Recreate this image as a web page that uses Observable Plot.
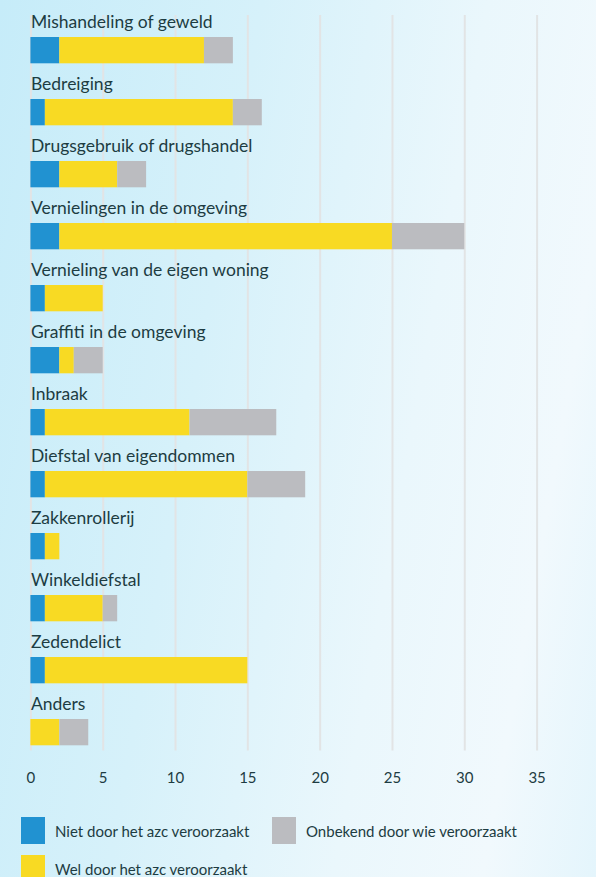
<!DOCTYPE html>
<html><head><meta charset="utf-8">
<script src="https://cdn.jsdelivr.net/npm/d3@7"></script>
<script src="https://cdn.jsdelivr.net/npm/@observablehq/plot@0.6"></script>
<style>
html,body{margin:0;padding:0;}
body{width:596px;height:877px;overflow:hidden;position:relative;
  background:linear-gradient(100deg,#c6ecf9 0%,#d6f1fa 35%,#eaf7fc 65%,#f1f9fd 85%,#e4f5fc 100%);
  font-family:Lato,sans-serif;color:#1d3c42;}
#chart svg{display:block;background:transparent;}
.li{position:absolute;display:flex;align-items:center;font-size:15px;white-space:nowrap;}
.sw{width:24px;height:27px;margin-right:10px;flex:none;}
</style></head>
<body>
<div id="chart"></div>
<div id="legend"></div>
<script>
const categories = ["Mishandeling of geweld","Bedreiging","Drugsgebruik of drugshandel","Vernielingen in de omgeving","Vernieling van de eigen woning","Graffiti in de omgeving","Inbraak","Diefstal van eigendommen","Zakkenrollerij","Winkeldiefstal","Zedendelict","Anders"];
const niet     = [2, 1, 2, 2, 1, 2, 1, 1, 1, 1, 1, 0];
const wel      = [10, 13, 4, 23, 4, 1, 10, 14, 1, 4, 14, 2];
const onbekend = [2, 2, 2, 5, 0, 2, 6, 4, 0, 1, 0, 2];
const seriesNames = ["Niet door het azc veroorzaakt","Wel door het azc veroorzaakt","Onbekend door wie veroorzaakt"];
const seriesColors = ["#2192d1","#f8da23","#bbbcc0"];
const xTicks = [0,5,10,15,20,25,30,35];

const seriesValues = [niet, wel, onbekend];
const rows = [];
categories.forEach((c,i)=>seriesNames.forEach((s,j)=>rows.push({cat:c, series:s, value:seriesValues[j][i]})));

const yTop = 5, yBottom = 757.4;
const step = (yBottom-yTop)/categories.length;
const chart = Plot.plot({
  width: 596, height: 790,
  marginTop: yTop, marginBottom: 790-yBottom, marginLeft: 30.4, marginRight: 59.4,
  style:{background:"transparent", fontFamily:"Lato,sans-serif", color:"#1d3c42"},
  x:{domain:[0,35], range:[30.4,536.6]},
  y:{domain:categories, range:[yTop,yBottom], padding:0, axis:null},
  color:{domain:seriesNames, range:seriesColors},
  marks:[
    Plot.ruleX(xTicks,{stroke:"#e2e4e5", strokeWidth:2, insetTop:10, insetBottom:7}),
    Plot.barX(rows, Plot.stackX({x:"value", y:"cat", fill:"series", insetTop:28, insetBottom:step-28-27})),
    Plot.text(categories,{x:()=>0, y:d=>d, text:d=>d, textAnchor:"start", lineAnchor:"bottom", dy:24-(yTop+step/2), fontSize:17.5, fill:"#1d3c42"}),
    Plot.axisX({ticks:xTicks, tickSize:0, tickPadding:14, fontSize:15, fill:"#1d3c42", label:null})
  ]
});
document.getElementById("chart").append(chart);

const legendPos = [[21,817],[21,855],[272,817]];
const lg = document.getElementById("legend");
seriesNames.forEach((s,i)=>{
  const d = document.createElement("div");
  d.className="li";
  d.style.left=legendPos[i][0]+"px"; d.style.top=legendPos[i][1]+"px";
  d.innerHTML=`<span class="sw" style="background:${seriesColors[i]}"></span><span>${s}</span>`;
  lg.append(d);
});
</script>
</body></html>
